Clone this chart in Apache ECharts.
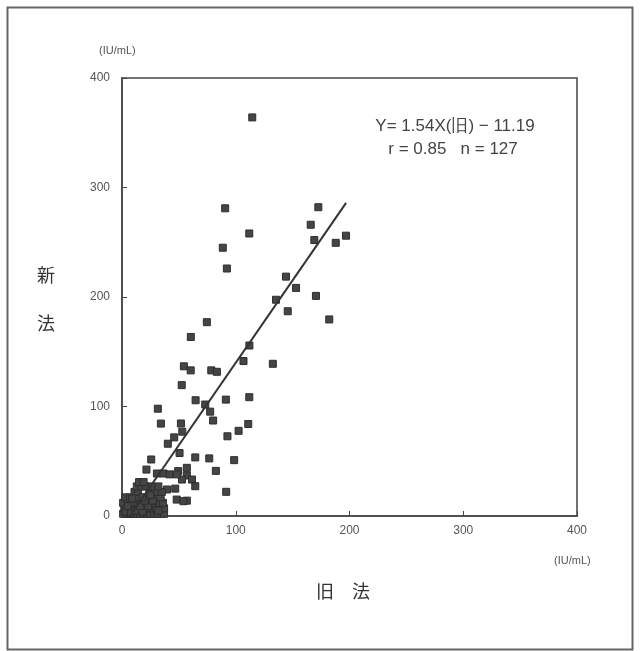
<!DOCTYPE html>
<html><head><meta charset="utf-8">
<script src="https://cdn.jsdelivr.net/npm/echarts@6/dist/echarts.min.js"></script>
<style>html,body{margin:0;padding:0;background:#fff}#c{width:641px;height:651px}</style>
</head><body><div id="c"></div>
<script>
// 旧法 (old method) values
var oldVals = [
114.5,90.7,172.6,165.9,111.9,169.1,187.9,196.9,88.6,92.2,
144.2,153,135.4,145.7,170.5,182.2,74.6,60.5,112,106.8,
132.6,54.4,60.4,78.5,83.4,52.5,64.7,73.2,91.3,77.5,
80.1,31.5,34.2,51.8,53,45.9,40.3,92.7,102.5,111.9,
111,25.7,50.6,64.4,76.7,98.6,82.5,91.6,21.5,30.7,
36.5,41.8,49.4,57,57,61.5,64.4,46.8,52.7,48.1,
57,54,39.5,48.3,
1,4,7,10,13,16,19,22,25,28,31,35,37,
2,6,9,13,17,21,26,30,34,37,
1,5,9,14,24,28,33,36,
3,7,11,15,22,27,34,
11,14,24,29,35,
13,17,21,26,32,
15,19,
3,8,12,18,23,27,32,5,16,20,9,18,25
];
// 新法 (new method) values
var newVals = [
364,281,282,266,258,252,249.5,256,245,226,
218.6,208.3,197.5,187,201,179.5,177,163.5,155.7,141.5,
139,136.7,133,133,131.7,119.5,105.7,101.8,106.3,95.3,
87.2,98,84.4,84.5,77,71.8,66,72.8,77.8,108.5,
84,51.6,57.5,53.5,52.6,51,41.2,22.1,42.4,38.8,
38.8,38,41,44,37,33.3,27.2,25,33.3,15,
14,13.5,24.2,38,
2,2,2,2,2,2,2,2,2,2,2,2,2,
7,7,7,7,7,7,7,7,7,7,
12,12,12,12,12,12,12,12,
17,17,17,17,17,17,17,
22,22,22,22,22,
27,27,27,27,27,
31,31,
4,3,5,4,9,14,5,9,9,14,16,17,19
];
// regression line endpoints
var fitX = [7, 197];
var fitY = [0, 286];
var xTicks = [0, 100, 200, 300, 400];
var yTicks = [0, 100, 200, 300, 400];
var unitLabel = '(IU/mL)';
var xTitle = '旧　法';
var yTitle = ['新', '法'];
var eqLine1 = 'Y= 1.54X(旧) − 11.19';
var eqLine2 = 'r = 0.85   n = 127';

var pts = oldVals.map(function(v, i){ return [v, newVals[i]]; });
var fit = fitX.map(function(v, i){ return [v, fitY[i]]; });

var chart = echarts.init(document.getElementById('c'), null, {renderer:'canvas'});
var numFont = '"Liberation Sans", Arial, sans-serif';
var jpFont = '"Noto Sans CJK JP", sans-serif';
chart.setOption({
  animation: false,
  backgroundColor: '#ffffff',
  grid: {left:122, top:78, right:64, bottom:135, show:true, borderColor:'#444', borderWidth:1.5, backgroundColor:'transparent'},
  xAxis: {
    type:'value', min:xTicks[0], max:xTicks[xTicks.length-1], interval:100,
    axisLine:{show:true, lineStyle:{color:'#444', width:1.5}},
    axisTick:{show:true, inside:true, length:5, lineStyle:{color:'#444'}},
    splitLine:{show:false},
    axisLabel:{color:'#555', fontSize:12, fontFamily:numFont, margin:9}
  },
  yAxis: {
    type:'value', min:yTicks[0], max:yTicks[yTicks.length-1], interval:100,
    axisLine:{show:true, lineStyle:{color:'#444', width:1.5}},
    axisTick:{show:true, inside:true, length:5, lineStyle:{color:'#444'}},
    splitLine:{show:false},
    axisLabel:{color:'#555', fontSize:12, fontFamily:numFont, margin:12}
  },
  series: [
    {type:'scatter', data:pts, symbol:'rect', symbolSize:7,
     itemStyle:{color:'#454545', borderColor:'#2e2e2e', borderWidth:1, opacity:1}, z:3},
    {type:'line', data:fit, symbol:'none', lineStyle:{color:'#333', width:2}, z:4}
  ],
  graphic: [
    {type:'rect', left:5, top:5, shape:{width:625, height:642}, style:{fill:'none', stroke:'#666', lineWidth:2}, silent:true},
    {type:'text', left:99, top:45, style:{text:unitLabel, fill:'#555', font:'11px ' + numFont}},
    {type:'text', left:554, top:555, style:{text:unitLabel, fill:'#555', font:'11px ' + numFont}},
    {type:'text', left:316, top:582, style:{text:xTitle, fill:'#333', font:'18px ' + jpFont}},
    {type:'text', left:37, top:266, style:{text:yTitle[0], fill:'#333', font:'18px ' + jpFont}},
    {type:'text', left:37, top:314, style:{text:yTitle[1], fill:'#333', font:'18px ' + jpFont}},
    {type:'text', x:455, y:126, style:{text:eqLine1, fill:'#444', font:'17px ' + numFont, textAlign:'center', textVerticalAlign:'middle'}},
    {type:'text', x:453, y:149, style:{text:eqLine2, fill:'#444', font:'17px ' + numFont, textAlign:'center', textVerticalAlign:'middle'}}
  ]
});
</script></body></html>
